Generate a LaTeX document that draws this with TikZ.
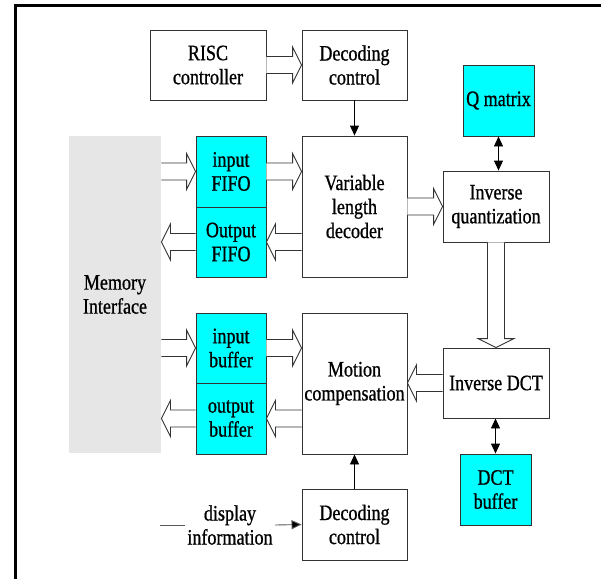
\documentclass[tikz,border=0pt]{standalone}
\usepackage{fontspec}
\setmainfont{Liberation Serif}[FakeStretch=0.82,FakeBold=0.8]
\usetikzlibrary{calc,arrows.meta}
\definecolor{boxline}{HTML}{333333}
\definecolor{memgray}{HTML}{E6E6E6}
\definecolor{cyanfill}{HTML}{00FFFF}
\tikzset{
  blk/.style={draw=boxline,line width=0.9pt,fill=white,rectangle,inner sep=0pt,align=center,
    font=\fontsize{22}{24}\selectfont},
  cyanblk/.style={blk,fill=cyanfill},
  hollow/.style={draw=boxline,line width=0.9pt,fill=white,line join=miter},
  thinarr/.style={draw=black,line width=0.9pt,-{Triangle[length=10pt,width=9pt]}},
  thinboth/.style={draw=black,line width=0.9pt,{Triangle[length=10pt,width=9pt]}-{Triangle[length=10pt,width=9pt]}},
  frameline/.style={line width=3pt,draw=black},
}
\newcommand\hollowarr[2]{%
  \coordinate (h-s) at #1;
  \coordinate (h-e) at #2;
  \coordinate (h-b) at ($(h-e)!9pt!(h-s)$);
  \draw[hollow] ($(h-s)!8.5pt!90:(h-e)$) -- ($(h-b)!8.5pt!90:(h-e)$) -- ($(h-b)!18pt!90:(h-e)$)
    -- (h-e) -- ($(h-b)!18pt!-90:(h-e)$) -- ($(h-b)!8.5pt!-90:(h-e)$) -- ($(h-s)!8.5pt!-90:(h-e)$);
}
\begin{document}
\begin{tikzpicture}[x=1pt,y=-1pt]
\useasboundingbox (0,0) rectangle (601,579);
\fill[white] (0,0) rectangle (601,579);
% frame
\draw[frameline] (15.5,5.5) -- (601,5.5);
\draw[frameline] (15.5,4) -- (15.5,579);
% blocks
\node[blk,minimum width=116pt,minimum height=70pt] (risc) at (208,65) {RISC\\controller};
\node[blk,minimum width=105pt,minimum height=70pt] (deco1) at (354.5,65) {Decoding\\control};
\node[blk,minimum width=105pt,minimum height=141pt] (vld) at (354.5,206.5) {Variable\\length\\decoder};
\node[cyanblk,minimum width=71pt,minimum height=71pt] (qm) at (498.5,100.5) {Q matrix};
\node[blk,minimum width=106pt,minimum height=71pt] (iq) at (496,206.5) {Inverse\\quantization};
\node[blk,draw=none,fill=memgray,minimum width=92pt,minimum height=317pt] (mem) at (115,294.5) {Memory\\Interface};
\node[cyanblk,minimum width=70pt,minimum height=71pt] (infifo) at (231,171.5) {input\\FIFO};
\node[cyanblk,minimum width=70pt,minimum height=70pt] (outfifo) at (231,242) {Output\\FIFO};
\node[cyanblk,minimum width=70pt,minimum height=70pt] (inbuf) at (231,348) {input\\buffer};
\node[cyanblk,minimum width=70pt,minimum height=71pt] (outbuf) at (231,418.5) {output\\buffer};
\node[blk,minimum width=105pt,minimum height=141pt] (mc) at (354.5,383.5) {Motion\\compensation};
\node[blk,minimum width=106pt,minimum height=70pt] (idct) at (496,383) {Inverse DCT};
\node[cyanblk,minimum width=71pt,minimum height=71pt] (dctbuf) at (495.5,489.5) {DCT\\buffer};
\node[blk,minimum width=105pt,minimum height=71pt] (deco2) at (354.5,524.5) {Decoding\\control};
\node[blk,draw=none,fill=none,inner sep=2pt] (disp) at (230,525) {display\\information};
\coordinate (dstart) at (160,525);
% hollow arrows
\hollowarr{(risc.east)}{(deco1.west |- risc.east)}
\hollowarr{(mem.east |- infifo.west)}{(infifo.west)}
\hollowarr{(outfifo.west)}{(mem.east |- outfifo.west)}
\hollowarr{(infifo.east)}{(vld.west |- infifo.east)}
\hollowarr{(vld.west |- outfifo.east)}{(outfifo.east)}
\hollowarr{(vld.east |- iq.west)}{(iq.west)}
\hollowarr{(iq.south)}{(idct.north)}
\hollowarr{(idct.west)}{(mc.east |- idct.west)}
\hollowarr{(mem.east |- inbuf.west)}{(inbuf.west)}
\hollowarr{(outbuf.west)}{(mem.east |- outbuf.west)}
\hollowarr{(inbuf.east)}{(mc.west |- inbuf.east)}
\hollowarr{(mc.west |- outbuf.east)}{(outbuf.east)}
% thin arrows
\draw[thinarr] (deco1.south) -- (vld.north);
\draw[thinarr] (deco2.north) -- (mc.south);
\draw[thinboth] (qm.south) -- (qm.south |- iq.north);
\draw[thinboth] (dctbuf.north) -- (dctbuf.north |- idct.south);
\draw[line width=0.9pt,draw=black!65] (dstart) -- (disp.west);
\draw[line width=0.9pt,draw=black!65,-{Triangle[length=10pt,width=9pt,fill=black]}] (disp.east) -- (deco2.west);
\end{tikzpicture}
\end{document}
